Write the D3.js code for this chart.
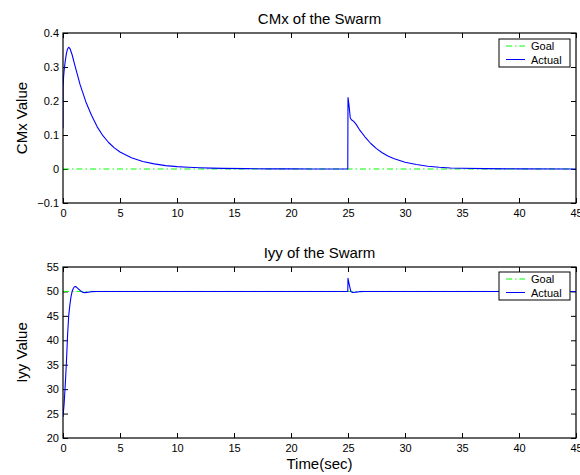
<!DOCTYPE html>
<html>
<head>
<meta charset="utf-8">
<script src="https://cdn.jsdelivr.net/npm/d3@7"></script>
<style>
  html, body { margin: 0; padding: 0; background: #fff; }
  svg { display: block; font-family: "Liberation Sans", Arial, Helvetica, sans-serif; }
</style>
</head>
<body>
<svg id="chart" width="580" height="475"></svg>
<script>
// Centre-of-mass x response of the swarm (goal is 0)
const cmxTime = [0, 0.005, 0.01, 0.05, 0.1, 0.2, 0.3, 0.4, 0.5, 0.6, 0.8, 1.0, 1.25, 1.5, 2.0, 2.5, 3.0, 3.5, 4.0, 4.5,
  5, 6, 7, 8, 9, 10, 11, 12, 13, 14, 16, 18, 20, 22, 24, 24.98,
  25.0, 25.08, 25.2, 25.3, 25.5, 25.7, 26.0, 26.5, 27.0, 27.5, 28.0, 28.5, 29, 30, 31, 32, 33, 34, 35, 37, 40, 45];
const cmxActual = [0.12, 0.23, 0.24, 0.27, 0.29, 0.318, 0.340, 0.353, 0.358, 0.355, 0.336, 0.310, 0.279, 0.248, 0.198, 0.158, 0.124, 0.098, 0.078, 0.062,
  0.050, 0.033, 0.022, 0.015, 0.010, 0.007, 0.005, 0.0035, 0.0025, 0.0018, 0.001, 0.0005, 0.0003, 0.0002, 0.0001, 0.0001,
  0.21, 0.19, 0.15, 0.145, 0.140, 0.132, 0.116, 0.094, 0.075, 0.060, 0.048, 0.038, 0.031, 0.020, 0.013, 0.008, 0.005, 0.003, 0.002, 0.001, 0.0003, 0.0001];
const cmxGoal = 0;

// Moment of inertia Iyy of the swarm (goal is 50)
const iyyTime = [0, 0.1, 0.2, 0.3, 0.4, 0.5, 0.6, 0.7, 0.8, 0.9, 1.0, 1.1, 1.2, 1.35, 1.5, 1.7, 1.9, 2.1, 2.5, 3.0,
  24.98, 25.0, 25.1, 25.25, 25.4, 25.7, 26.0, 26.5, 45];
const iyyActual = [24.3, 27, 31, 35.5, 41, 45, 47.2, 48.9, 50, 50.6, 50.95, 51.0, 50.85, 50.5, 50.2, 49.85, 49.75, 49.8, 49.95, 50,
  50, 52.7, 51.5, 50.0, 49.8, 49.85, 49.95, 50, 50];
const iyyGoal = 50;

const timeTicks = [0, 5, 10, 15, 20, 25, 30, 35, 40, 45];
const cmxTicks = [-0.1, 0, 0.1, 0.2, 0.3, 0.4];
const iyyTicks = [20, 25, 30, 35, 40, 45, 50, 55];

const legendLabels = ["Goal", "Actual"];
const goalColor = "#00ff00";
const actualColor = "#0000ff";

const svg = d3.select("#chart");
const left = 63, right = 576;

function panel(cfg) {
  const x = d3.scaleLinear().domain([0, 45]).range([left, right]);
  const y = d3.scaleLinear().domain(cfg.yDomain).range([cfg.bottom, cfg.top]);
  const g = svg.append("g");

  // clip region for the traces
  const clipId = "clip" + cfg.id;
  svg.append("clipPath").attr("id", clipId)
    .append("rect").attr("x", left).attr("y", cfg.top)
    .attr("width", right - left).attr("height", cfg.bottom - cfg.top);

  // bottom axis with labels, inward ticks
  const xA = g.append("g").attr("transform", `translate(0,${cfg.bottom})`)
    .call(d3.axisBottom(x).tickValues(timeTicks).tickSize(-5).tickPadding(6).tickFormat(d3.format("d")));
  // top axis ticks only
  const xTop = g.append("g").attr("transform", `translate(0,${cfg.top})`)
    .call(d3.axisTop(x).tickValues(timeTicks).tickSize(-5).tickFormat(""));
  // left axis with labels
  const yA = g.append("g").attr("transform", `translate(${left},0)`)
    .call(d3.axisLeft(y).tickValues(cfg.ticks).tickSize(-5).tickPadding(4).tickFormat(cfg.fmt));
  // right axis ticks only
  const yR = g.append("g").attr("transform", `translate(${right},0)`)
    .call(d3.axisRight(y).tickValues(cfg.ticks).tickSize(-5).tickFormat(""));

  [xA, xTop, yA, yR].forEach(a => {
    a.select(".domain").remove();
    a.selectAll("line").attr("stroke", "#000").attr("stroke-width", 1);
    a.selectAll("text").attr("fill", "#000").style("font-size", "11px")
      .style("font-family", "'Liberation Sans', Arial, sans-serif");
  });

  // goal line
  g.append("line")
    .attr("x1", x(0)).attr("x2", x(45))
    .attr("y1", y(cfg.goal)).attr("y2", y(cfg.goal))
    .attr("stroke", goalColor).attr("stroke-width", 1)
    .attr("stroke-dasharray", "6,3,1.5,3");

  // actual trace
  const line = d3.line().x((d, i) => x(cfg.t[i])).y(d => y(d));
  g.append("path").datum(cfg.v)
    .attr("clip-path", `url(#${clipId})`)
    .attr("d", line)
    .attr("fill", "none").attr("stroke", actualColor).attr("stroke-width", 1.1)
    .attr("stroke-linejoin", "round");

  // axes box
  g.append("rect").attr("x", left).attr("y", cfg.top)
    .attr("width", right - left).attr("height", cfg.bottom - cfg.top)
    .attr("fill", "none").attr("stroke", "#000").attr("stroke-width", 1.2);

  // title
  g.append("text").attr("x", (left + right) / 2).attr("y", cfg.titleY)
    .attr("text-anchor", "middle").style("font-size", "15px").text(cfg.title);

  // y label
  g.append("text")
    .attr("transform", `translate(27,${(cfg.top + cfg.bottom) / 2}) rotate(-90)`)
    .attr("text-anchor", "middle").style("font-size", "15px").text(cfg.ylabel);

  // legend
  const lx = right - 77, ly = cfg.top + cfg.legendOffset, lw = 71, lh = 28;
  const lg = g.append("g");
  lg.append("rect").attr("x", lx).attr("y", ly).attr("width", lw).attr("height", lh)
    .attr("fill", "#fff").attr("stroke", "#000").attr("stroke-width", 1);
  legendLabels.forEach((lab, i) => {
    const yy = ly + 7 + i * 13.5;
    lg.append("line").attr("x1", lx + 7).attr("x2", lx + 26).attr("y1", yy).attr("y2", yy)
      .attr("stroke", i === 0 ? goalColor : actualColor).attr("stroke-width", 1)
      .attr("stroke-dasharray", i === 0 ? "6,3,1.5,3" : null);
    lg.append("text").attr("x", lx + 32).attr("y", yy + 4)
      .style("font-size", "11px").text(lab);
  });
}

panel({
  id: "cmx", top: 33, bottom: 203, yDomain: [-0.1, 0.4], ticks: cmxTicks,
  fmt: d => (d === 0 ? "0" : d3.format(".1f")(d).replace("-", "\u2212")),
  t: cmxTime, v: cmxActual, goal: cmxGoal,
  title: "CMx of the Swarm", titleY: 24, ylabel: "CMx Value", legendOffset: 6
});

panel({
  id: "iyy", top: 267, bottom: 438, yDomain: [20, 55], ticks: iyyTicks,
  fmt: d3.format("d"),
  t: iyyTime, v: iyyActual, goal: iyyGoal,
  title: "Iyy of the Swarm", titleY: 258, ylabel: "Iyy Value", legendOffset: 5
});

// shared x label
svg.append("text").attr("x", (left + right) / 2).attr("y", 469)
  .attr("text-anchor", "middle").style("font-size", "15px").text("Time(sec)");
</script>
</body>
</html>
